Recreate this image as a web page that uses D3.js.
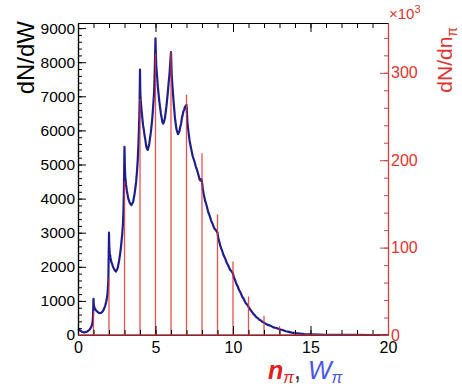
<!DOCTYPE html>
<html>
<head>
<meta charset="utf-8">
<script src="https://cdn.jsdelivr.net/npm/d3@7"></script>
<style>
  html, body { margin: 0; padding: 0; background: #fff; }
  svg text { font-family: "Liberation Sans", Arial, sans-serif; }
</style>
</head>
<body>
<svg id="chart" width="462" height="390"></svg>
<script>
// Pion multiplicity (integer n) and weighted pion number W, per event sample.
const nValues = [0, 1, 2, 3, 4, 5, 6, 7, 8, 9, 10, 11, 12, 13, 14, 15];
// dN/dn in units of 10^3
const dNdn = [0, 27, 65, 176, 270, 322, 324, 275, 208, 138, 84, 44, 22, 10, 4, 1.5];

const wValues = [
  0.00, 0.05, 0.10, 0.15, 0.20, 0.25, 0.30, 0.35, 0.40, 0.45, 0.50, 0.55, 0.60, 0.65, 0.70, 0.75, 0.80, 0.85, 0.90, 0.94, 0.97,
  1.00, 1.02, 1.05, 1.10, 1.15, 1.20, 1.25, 1.30, 1.35, 1.40, 1.45, 1.50, 1.55, 1.60, 1.65, 1.70, 1.75, 1.80, 1.85, 1.90, 1.93, 1.96,
  2.00, 2.02, 2.05, 2.10, 2.15, 2.20, 2.25, 2.30, 2.35, 2.40, 2.45, 2.50, 2.55, 2.60, 2.65, 2.70, 2.75, 2.80, 2.85, 2.90, 2.93, 2.96, 2.98,
  3.00, 3.02, 3.05, 3.10, 3.15, 3.20, 3.25, 3.30, 3.35, 3.40, 3.45, 3.50, 3.55, 3.60, 3.65, 3.70, 3.75, 3.80, 3.85, 3.90, 3.93, 3.96, 3.98,
  4.00, 4.02, 4.05, 4.10, 4.15, 4.20, 4.25, 4.30, 4.35, 4.40, 4.45, 4.50, 4.55, 4.60, 4.65, 4.70, 4.75, 4.80, 4.85, 4.90, 4.93, 4.96, 4.98,
  5.00, 5.02, 5.05, 5.10, 5.15, 5.20, 5.25, 5.30, 5.35, 5.40, 5.45, 5.50, 5.55, 5.60, 5.65, 5.70, 5.75, 5.80, 5.85, 5.90, 5.94, 5.97,
  6.00, 6.02, 6.05, 6.10, 6.15, 6.20, 6.25, 6.30, 6.35, 6.40, 6.45, 6.50, 6.55, 6.60, 6.65, 6.70, 6.75, 6.80, 6.85, 6.90, 6.95,
  7.00, 7.03, 7.06, 7.10, 7.20, 7.30, 7.40, 7.50, 7.60, 7.70, 7.80, 7.85, 7.90, 7.95,
  8.00, 8.05, 8.10, 8.20, 8.30, 8.40, 8.50, 8.60, 8.70, 8.80, 8.90,
  9.00, 9.05, 9.10, 9.20, 9.30, 9.40, 9.50, 9.60, 9.70, 9.80, 9.90,
  10.00, 10.05, 10.10, 10.20, 10.30, 10.40, 10.50, 10.60, 10.70, 10.80, 10.90,
  11.00, 11.10, 11.20, 11.30, 11.40, 11.50, 11.60, 11.70, 11.80, 11.90,
  12.00, 12.20, 12.40, 12.60, 12.80, 13.00, 13.20, 13.40, 13.60, 13.80,
  14.00, 14.30, 14.60, 15.00, 15.50, 16.00, 17.00, 18.00, 19.00, 20.00
];
const dNdW = [
  180, 165, 150, 128, 112, 96, 88, 78, 76, 82, 84, 92, 104, 121, 138, 162, 188, 232, 288, 380, 560,
  1060, 900, 815, 765, 725, 705, 685, 665, 648, 640, 646, 652, 668, 702, 738, 792, 848, 935, 1040, 1200, 1380, 1650,
  3000, 2600, 2400, 2260, 2140, 2090, 2010, 1960, 1915, 1885, 1860, 1905, 1945, 2060, 2170, 2330, 2490, 2710, 2940, 3260, 3600, 4200, 4900,
  5520, 5000, 4640, 4410, 4240, 4110, 3990, 3930, 3860, 3850, 3810, 3860, 3890, 4010, 4140, 4310, 4490, 4760, 5090, 5610, 6000, 6500, 7000,
  7780, 7100, 6860, 6590, 6360, 6140, 6010, 5840, 5710, 5540, 5460, 5430, 5510, 5610, 5790, 5940, 6160, 6390, 6710, 7040, 7400, 7900, 8300,
  8700, 8300, 7900, 7610, 7290, 7060, 6840, 6660, 6490, 6360, 6240, 6200, 6260, 6340, 6510, 6690, 6910, 7140, 7410, 7640, 7900, 8100,
  8300, 8000, 7600, 7260, 6940, 6660, 6390, 6210, 6040, 5960, 5890, 5930, 5990, 6110, 6190, 6360, 6440, 6560, 6610, 6690, 6710,
  6750, 6500, 6250, 6060, 5690, 5460, 5240, 5110, 4940, 4810, 4640, 4560, 4530, 4570,
  4500, 4290, 4160, 3940, 3790, 3610, 3490, 3340, 3240, 3120, 3070,
  3000, 2840, 2760, 2590, 2470, 2330, 2240, 2110, 2030, 1920, 1870,
  1800, 1700, 1650, 1520, 1430, 1310, 1230, 1120, 1050, 950, 895,
  830, 755, 695, 625, 585, 525, 495, 445, 425, 385,
  360, 305, 275, 225, 205, 170, 145, 110, 92, 68,
  55, 42, 26, 19, 10, 6, 3, 1, 0, 0
];

const xTicksMajor = [0, 5, 10, 15, 20];
const yLeftTicks = [0, 1000, 2000, 3000, 4000, 5000, 6000, 7000, 8000, 9000];
const yRightTicks = [0, 100, 200, 300];

const svg = d3.select("#chart");
svg.append("rect").attr("width", 462).attr("height", 390).attr("fill", "#fff");

const x = d3.scaleLinear().domain([0, 20]).range([78, 388]);
const yL = d3.scaleLinear().domain([0, 9150]).range([335, 23]);
const yR = d3.scaleLinear().domain([0, 357]).range([335, 23]);

const red = "#e2342f";
const axisRed = "#c8474a";

// dN/dW curve
const curvePts = wValues.map((w, i) => [w, dNdW[i]]);
svg.append("path")
  .datum(curvePts)
  .attr("fill", "none")
  .attr("stroke", "#1e1e8f")
  .attr("stroke-width", 2.2)
  .attr("stroke-linejoin", "round")
  .attr("d", d3.line().x(d => x(d[0])).y(d => yL(d[1])));

// dN/dn bars at integer multiplicities
svg.append("g").selectAll("line")
  .data(nValues.map((n, i) => ({ n, v: dNdn[i] })).filter(d => d.v > 0))
  .join("line")
  .attr("x1", d => x(d.n)).attr("x2", d => x(d.n))
  .attr("y1", yR(0)).attr("y2", d => yR(d.v))
  .attr("stroke", red)
  .attr("stroke-opacity", 0.85)
  .attr("stroke-width", 1.3);

function styleAxis(g, color) {
  g.selectAll("path.domain").attr("stroke", color).attr("stroke-width", 1.2);
  g.selectAll("line").attr("stroke", color);
  g.selectAll("text").attr("fill", color).attr("font-size", 16);
}

// Draws a minor-tick group and a major-tick group for one side
function drawAxis(axisFn, scale, transform, minorVals, majorVals, minorLen, majorLen, color, withLabels) {
  const gMin = svg.append("g").attr("transform", transform);
  gMin.call(axisFn(scale).tickValues(minorVals).tickSize(-minorLen).tickFormat("").tickSizeOuter(0));
  styleAxis(gMin, color);
  const gMaj = svg.append("g").attr("transform", transform);
  const ax = axisFn(scale).tickValues(majorVals).tickSize(-majorLen).tickSizeOuter(0).tickPadding(withLabels ? withLabels : 3);
  ax.tickFormat(withLabels ? d3.format("d") : "");
  gMaj.call(ax);
  styleAxis(gMaj, color);
  return gMaj;
}

// Left axis
const gL = drawAxis(d3.axisLeft, yL, `translate(${x(0)},0)`, d3.range(0, 9001, 200), yLeftTicks, 4, 8, "#000", 3);
gL.selectAll("text").attr("font-size", 15.5);

// Bottom axis
drawAxis(d3.axisBottom, x, `translate(0,${yL(0)})`, d3.range(0, 21, 1), xTicksMajor, 5, 9, "#000", 7);

// Top axis (ticks only)
drawAxis(d3.axisTop, x, `translate(0,${yL.range()[1]})`, d3.range(0, 21, 1), xTicksMajor, 5, 9, "#000", 0);

// Right axis (dN/dn, x10^3)
const gR = drawAxis(d3.axisRight, yR, `translate(${x(20)},0)`, d3.range(0, 357, 20), yRightTicks, 4, 8, axisRed, 3);
gR.selectAll("text").attr("fill", red);

// Zero line of the dN/dn histogram along the bottom
svg.append("line")
  .attr("x1", x(0)).attr("x2", x(20))
  .attr("y1", yR(0)).attr("y2", yR(0))
  .attr("stroke", "#b0343f").attr("stroke-width", 1.4);

// Axis titles
svg.append("text")
  .attr("transform", `translate(34,${yL.range()[1] - 2}) rotate(-90)`)
  .attr("text-anchor", "end")
  .attr("font-size", 24)
  .attr("fill", "#000")
  .text("dN/dW");

const rt = svg.append("text")
  .attr("transform", `translate(452,${yR.range()[1] + 4}) rotate(-90)`)
  .attr("text-anchor", "end")
  .attr("font-size", 21)
  .attr("fill", red);
rt.append("tspan").text("dN/dn");
rt.append("tspan").attr("font-size", 14).attr("dy", 5).text("π");

const mult = svg.append("text")
  .attr("x", x(20) + 1).attr("y", 19)
  .attr("font-size", 15)
  .attr("fill", red);
mult.append("tspan").text("×10");
mult.append("tspan").attr("font-size", 11).attr("dy", -6).text("3");

const xt = svg.append("text")
  .attr("x", 268).attr("y", 379)
  .attr("font-family", "'Liberation Serif', 'Times New Roman', serif")
  .attr("font-style", "italic")
  .attr("font-size", 25);
xt.append("tspan").attr("fill", "#e0201c").attr("font-weight", "bold").text("n");
xt.append("tspan").attr("fill", "#e0201c").attr("font-size", 16).attr("dy", 4).text("π");
xt.append("tspan").attr("fill", "#333").attr("dy", -4).attr("font-style", "normal").text(", ");
xt.append("tspan").attr("fill", "#4a55e8").text("W");
xt.append("tspan").attr("fill", "#4a55e8").attr("font-size", 16).attr("dy", 4).text("π");
</script>
</body>
</html>
